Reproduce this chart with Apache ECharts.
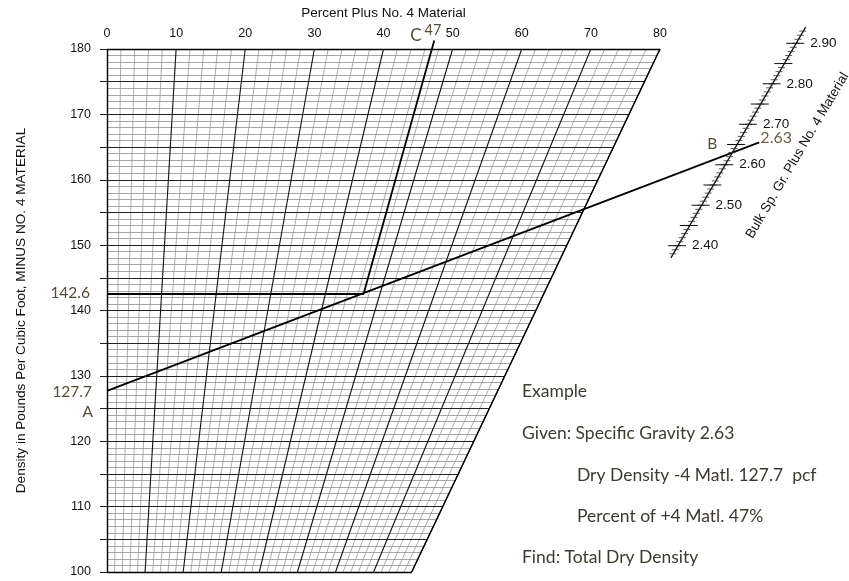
<!DOCTYPE html>
<html><head><meta charset="utf-8">
<script src="https://cdn.jsdelivr.net/npm/echarts@6/dist/echarts.min.js"></script>
<style>html,body{margin:0;padding:0;background:#fff}#c{width:849px;height:581px}</style>
</head><body><div id="c"></div>
<script>
// ---- data ----
const percentTicks = [0, 10, 20, 30, 40, 50, 60, 70, 80];
const densityTicks = [100, 110, 120, 130, 140, 150, 160, 170, 180];
const sgLabelTicks = [2.40, 2.50, 2.60, 2.70, 2.80, 2.90];
const sgMidTicks = [2.45, 2.55, 2.65, 2.75, 2.85];
const sgRange = [2.37, 2.94];
const exampleSG = 2.63;
const exampleDensityMinus4 = 127.7;
const examplePercentPlus4 = 47;
const exampleTotalDensity = 142.6;
const exampleLines = [
  'Example',
  'Given: Specific Gravity 2.63',
  'Dry Density -4 Matl. 127.7  pcf',
  'Percent of +4 Matl. 47%',
  'Find: Total Dry Density'
];

// ---- nomograph geometry ----
const DMIN = 100, DMAX = 180, PMAX = 80;
const bottomRatio = 0.551;               // percent spacing at 100 pcf relative to 180 pcf
function xAt(p, d) { return p * (bottomRatio + (1 - bottomRatio) * (d - DMIN) / (DMAX - DMIN)); }
// specific-gravity scale anchors (in chart data units)
const sgLow = { g: 2.40, pt: [82.6, 149.91] };
const sgHigh = { g: 2.90, pt: [99.7, 180.87] };
function sgPoint(g) {
  const t = (g - sgLow.g) / (sgHigh.g - sgLow.g);
  return [sgLow.pt[0] + t * (sgHigh.pt[0] - sgLow.pt[0]), sgLow.pt[1] + t * (sgHigh.pt[1] - sgLow.pt[1])];
}

// grid line sets
const minorH = [], majorH = [], minorP = [], majorP = [];
for (let d = DMIN; d <= DMAX; d += 1) {
  const seg = { coords: [[0, d], [xAt(PMAX, d), d]] };
  if (d % 5 === 0) majorH.push(seg); else minorH.push(seg);
}
for (let p = 0; p <= PMAX; p += 2) {
  const seg = { coords: [[xAt(p, DMIN), DMIN], [p, DMAX]] };
  if (p % 10 === 0) majorP.push(seg); else minorP.push(seg);
}
const outline = [
  { coords: [[0, DMIN], [0, DMAX]] },
  { coords: [[xAt(PMAX, DMIN), DMIN], [PMAX, DMAX]] },
  { coords: [[0, DMIN], [xAt(PMAX, DMIN), DMIN]] },
  { coords: [[0, DMAX], [PMAX, DMAX]] }
];

// example construction
const A = [0, exampleDensityMinus4];
const B = sgPoint(exampleSG);
const dx = B[0] - A[0], dy = B[1] - A[1];
const P = examplePercentPlus4, k = bottomRatio;
const tI = (P * k + P * (1 - k) * (A[1] - DMIN) / 80) / (dx - P * (1 - k) * dy / 80);
const I = [A[0] + tI * dx, A[1] + tI * dy];
const abEnd = [A[0] + 1.043 * dx, A[1] + 1.043 * dy];
const topC = [P, DMAX];
const sC = (181.3 - I[1]) / (DMAX - I[1]);
const cEnd = [I[0] + sC * (topC[0] - I[0]), I[1] + sC * (topC[1] - I[1])];
const exampleSegs = [
  { coords: [A, abEnd] },
  { coords: [[0, exampleTotalDensity], [I[0], exampleTotalDensity]] },
  { coords: [I, cEnd] }
];

function linesSeries(data, color, width, z) {
  return { type: 'lines', coordinateSystem: 'cartesian2d', data: data, polyline: false, clip: false,
    silent: true, animation: false, z: z, lineStyle: { color: color, width: width, opacity: 1 } };
}

const axisFont = '"Liberation Sans", Arial, sans-serif';
const annoFont = 'Lato, "Open Sans", sans-serif';
const annoColor = '#554c36';

const chart = echarts.init(document.getElementById('c'), null, { renderer: 'canvas' });
chart.setOption({
  animation: false,
  backgroundColor: '#fff',
  grid: { left: 107, top: 49, right: 189, bottom: 9, containLabel: false, outerBoundsMode: 'none' },
  xAxis: {
    type: 'value', min: 0, max: PMAX, interval: 10, position: 'top',
    axisLine: { show: false }, axisTick: { show: false }, splitLine: { show: false },
    axisLabel: { color: '#111', fontSize: 12.5, fontFamily: axisFont, margin: 9 },
    name: 'Percent Plus No. 4 Material', nameLocation: 'middle', nameGap: 29,
    nameTextStyle: { color: '#111', fontSize: 13.5, fontFamily: axisFont }
  },
  yAxis: {
    type: 'value', min: DMIN, max: DMAX, interval: 5,
    axisLine: { show: false },
    axisTick: { show: true, length: 7, lineStyle: { color: '#222', width: 1 } },
    splitLine: { show: false },
    axisLabel: { color: '#111', fontSize: 12.5, fontFamily: axisFont, margin: 16,
      formatter: v => (densityTicks.indexOf(v) >= 0 ? String(v) : '') },
    name: 'Density in Pounds Per Cubic Foot, MINUS NO. 4 MATERIAL', nameLocation: 'middle', nameGap: 79, nameRotate: 90,
    nameTextStyle: { color: '#111', fontSize: 13.6, fontFamily: axisFont }
  },
  series: [
    linesSeries(minorH, '#8a8a8a', 0.75, 1),
    linesSeries(minorP, '#929292', 0.75, 1),
    linesSeries(majorH, '#222', 1.2, 2),
    linesSeries(majorP, '#111', 1.1, 2),
    linesSeries(outline, '#000', 1.3, 3),
    linesSeries(exampleSegs, '#000', 1.8, 4),
    {
      type: 'custom', coordinateSystem: 'cartesian2d', silent: true, z: 5, clip: false,
      data: [[0, 0]],
      renderItem: function (params, api) {
        const ch = [];
        const lo = api.coord(sgPoint(sgRange[0])), hi = api.coord(sgPoint(sgRange[1]));
        ch.push({ type: 'line', shape: { x1: lo[0], y1: lo[1], x2: hi[0], y2: hi[1] }, style: { stroke: '#111', lineWidth: 1.3 } });
        for (let i = Math.round(sgRange[0] * 100) + 1; i < Math.round(sgRange[1] * 100); i++) {
          const c = api.coord(sgPoint(i / 100));
          ch.push({ type: 'line', shape: { x1: c[0] - 4, y1: c[1], x2: c[0] + 3, y2: c[1] }, style: { stroke: '#333', lineWidth: 0.8 } });
        }
        sgMidTicks.concat(sgLabelTicks).forEach(g => {
          const c = api.coord(sgPoint(g));
          ch.push({ type: 'line', shape: { x1: c[0] - 10, y1: c[1], x2: c[0] + 8, y2: c[1] }, style: { stroke: '#111', lineWidth: 1 } });
        });
        sgLabelTicks.forEach(g => {
          const c = api.coord(sgPoint(g));
          ch.push({ type: 'text', x: c[0] + 14, y: c[1], style: { text: g.toFixed(2), fill: '#111',
            font: '13.5px ' + axisFont, textAlign: 'left', textVerticalAlign: 'middle' } });
        });
        const nm = api.coord(sgPoint(exampleSG));
        ch.push({ type: 'text', x: nm[0] + 65, y: nm[1] + 3, rotation: 59.5 * Math.PI / 180,
          style: { text: 'Bulk Sp. Gr. Plus No. 4 Material', fill: '#111', font: '13.5px ' + axisFont,
            textAlign: 'center', textVerticalAlign: 'middle' } });
        // annotations
        const a = api.coord(A), b = api.coord(B), t = api.coord(topC), r = api.coord([0, exampleTotalDensity]);
        const txt = (s, x, y, size, align, color) => ({ type: 'text', x: x, y: y, style: { text: s, fill: color || annoColor,
          font: size + 'px ' + annoFont, textAlign: align, textVerticalAlign: 'middle' } });
        ch.push(txt(exampleDensityMinus4.toFixed(1), a[0] - 15, a[1] + 1, 15.5, 'right'));
        ch.push(txt('A', a[0] - 14, a[1] + 21, 15.5, 'right'));
        ch.push(txt(exampleTotalDensity.toFixed(1), r[0] - 17, r[1] - 1, 15.5, 'right'));
        ch.push(txt('C', t[0] - 16, t[1] - 13, 17, 'center'));
        ch.push(txt(String(examplePercentPlus4), t[0] + 1, t[1] - 19, 14.5, 'center'));
        ch.push(txt('B', b[0] - 20, b[1] - 9, 15.5, 'center'));
        ch.push(txt(exampleSG.toFixed(2), b[0] + 28, b[1] - 15, 16, 'left', '#6a6148'));
        return { type: 'group', children: ch };
      }
    }
  ],
  graphic: exampleLines.map((s, i) => ({
    type: 'text', left: [522, 522, 577, 577, 522][i], top: [393, 435, 477, 518, 559][i] - 11,
    style: { text: s, fill: '#3d3a30', font: '17.5px Lato, "Open Sans", sans-serif' }, silent: true
  }))
});
</script>
</body></html>
